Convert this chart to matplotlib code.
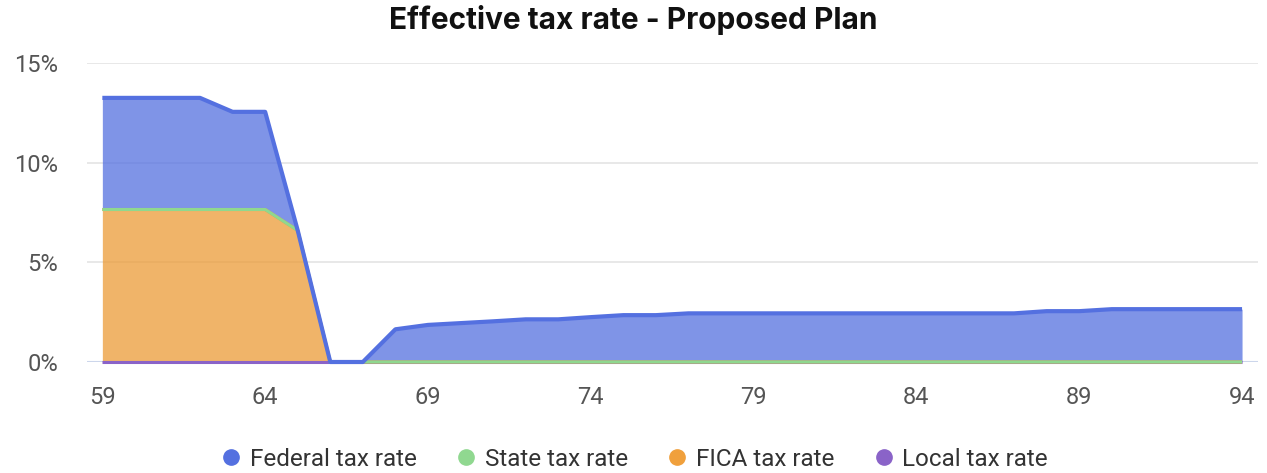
import numpy as np
import matplotlib
matplotlib.use("Agg")
import matplotlib.pyplot as plt
from matplotlib.lines import Line2D

plt.rcParams["font.family"] = ["Roboto", "DejaVu Sans"]

ages = [59, 60, 61, 62, 63, 64, 65, 66, 67, 68, 69, 70, 71, 72, 73, 74, 75, 76,
        77, 78, 79, 80, 81, 82, 83, 84, 85, 86, 87, 88, 89, 90, 91, 92, 93, 94]
federal = [5.6, 5.6, 5.6, 5.6, 4.9, 4.9, 0.0, 0.0, 0.0, 1.64, 1.86, 1.95, 2.04, 2.14,
           2.14, 2.25, 2.35, 2.35, 2.44, 2.44, 2.44, 2.44, 2.44, 2.44, 2.44, 2.44,
           2.44, 2.44, 2.44, 2.55, 2.55, 2.65, 2.65, 2.65, 2.65, 2.65]
state = [0.0] * 36
fica = [7.65, 7.65, 7.65, 7.65, 7.65, 7.65, 6.6, 0.0, 0.0, 0.0, 0.0, 0.0, 0.0, 0.0,
        0.0, 0.0, 0.0, 0.0, 0.0, 0.0, 0.0, 0.0, 0.0, 0.0, 0.0, 0.0, 0.0, 0.0, 0.0,
        0.0, 0.0, 0.0, 0.0, 0.0, 0.0, 0.0]
local = [0.0] * 36
xticks = [59, 64, 69, 74, 79, 84, 89, 94]
yticks = [0, 5, 10, 15]

C = {"Federal": "#5470e0", "State": "#8fd88f", "FICA": "#eb9b37", "Local": "#8a63c8"}
LEG = {"Federal": "#5470e0", "State": "#90d890", "FICA": "#f0a03c", "Local": "#8a63c8"}

fig = plt.figure(figsize=(12.67, 4.73), dpi=100)
ax = fig.add_axes([0.0687, 0.2347, 0.9242, 0.6321])

# stack bottom -> top: local, FICA, state, federal
layers = [("Local", local), ("FICA", fica), ("State", state), ("Federal", federal)]
x = np.array(ages, float)
base = np.zeros(len(ages))
tops = []
for name, vals in layers:
    top = base + np.array(vals, float)
    ax.fill_between(x, base, top, color=C[name], alpha=0.75, lw=0, zorder=2)
    tops.append((name, top))
    base = top
for name, top in tops:
    lw = 3.0 if name == "Federal" else 2.2
    ax.plot(x, top, color=C[name], lw=lw, solid_capstyle="butt",
            solid_joinstyle="round", zorder=3, clip_on=False)

for y in yticks[1:]:
    ax.axhline(y, color="#e6e6e6", lw=1.3, zorder=0)
ax.axhline(0, color="#ccd6eb", lw=1.5, zorder=1)

ax.set_xlim(58.53, 94.49)
ax.set_ylim(0, 15)
ax.set_xticks(xticks)
ax.set_yticks(yticks)
ax.set_yticklabels([f"{v}%" for v in yticks])
ax.tick_params(length=0, labelsize=17, labelcolor="#555555")
ax.tick_params(axis="y", pad=21)
ax.tick_params(axis="x", pad=17)
for s in ax.spines.values():
    s.set_visible(False)

fig.text(0.5, 1 - 20 / 473, "Effective tax rate - Proposed Plan", ha="center",
         va="center", fontsize=21.5, fontweight="bold", color="#111111",
         family=["Inter", "DejaVu Sans"])

handles = [Line2D([], [], ls="none", marker="o", markersize=11,
                  color=LEG[n], label=f"{n} tax rate")
           for n in ["Federal", "State", "FICA", "Local"]]
fig.legend(handles=handles, loc="center", bbox_to_anchor=(0.5, 1 - 459 / 473),
           ncol=4, frameon=False, fontsize=17.5, labelcolor="#333333",
           handletextpad=0.25, columnspacing=1.55, handlelength=1.0)

fig.savefig("out.png", dpi=100)
